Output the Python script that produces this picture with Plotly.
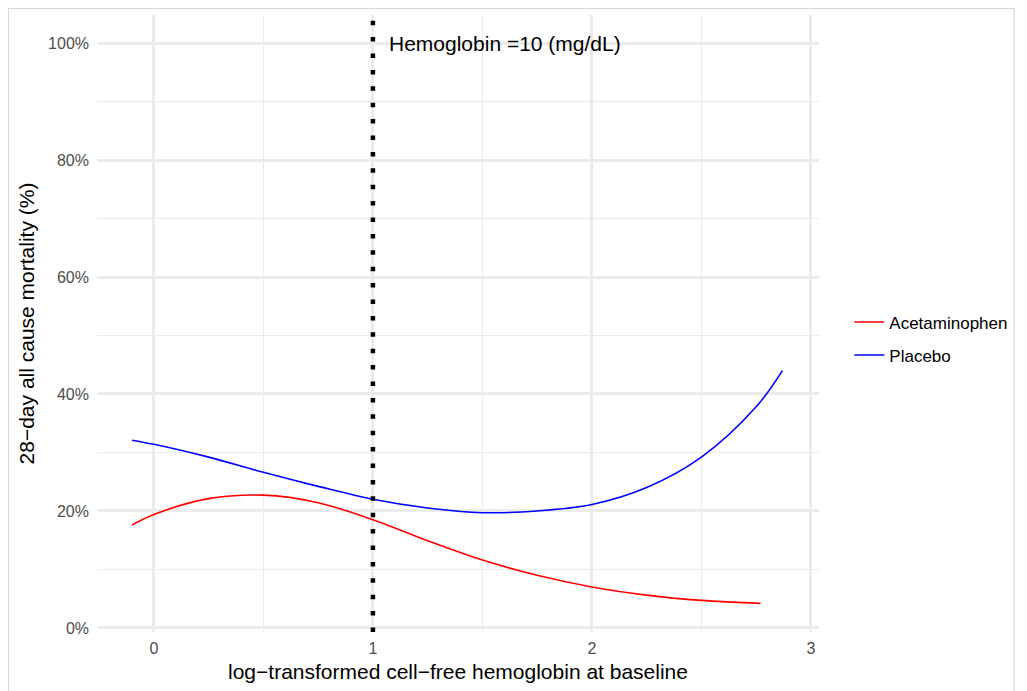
import plotly.graph_objects as go

# Data
placebo_x = [-0.1, 0.0, 0.25, 0.5, 0.75, 1.0, 1.25, 1.5, 1.75, 2.0, 2.25, 2.5, 2.75, 2.87]
placebo_y = [0.321, 0.314, 0.292, 0.266, 0.242, 0.220, 0.205, 0.197, 0.200, 0.211, 0.240, 0.292, 0.378, 0.440]

acet_x = [-0.1, 0.0, 0.25, 0.5, 0.75, 1.0, 1.25, 1.5, 1.75, 2.0, 2.25, 2.5, 2.77]
acet_y = [0.176, 0.194, 0.221, 0.227, 0.214, 0.185, 0.149, 0.116, 0.090, 0.070, 0.056, 0.047, 0.042]

threshold_x = 1.0
threshold_label = "Hemoglobin =10 (mg/dL)"

x_ticks = [0, 1, 2, 3]
y_ticks = [0, 0.2, 0.4, 0.6, 0.8, 1.0]

FONT = "Liberation Sans, Arial, sans-serif"
GRID = "#EBEBEB"

# page is rendered with an 8px body offset; plot area in page px: x 97..819, y 15..632
L, T = 97 - 8, 15 - 8
R = 1027 - (819 - 8)
B = 691 - (632 - 8)
PW = 819 - 97
PH = 632 - 15

fig = go.Figure()
fig.add_trace(go.Scatter(x=acet_x, y=acet_y, mode="lines", name="Acetaminophen", legendgroup="a",
                         line=dict(color="#FF0000", width=1.6, shape="spline", smoothing=1.0)))
fig.add_trace(go.Scatter(x=placebo_x, y=placebo_y, mode="lines", name="Placebo", legendgroup="b",
                         line=dict(color="#0000FF", width=1.6, shape="spline", smoothing=1.0)))

# vertical dotted reference line
fig.add_shape(type="line", xref="x", yref="paper", x0=threshold_x, x1=threshold_x, y0=0, y1=1,
              line=dict(color="black", width=4.5, dash="4.5px,11.9px"), layer="above")

fig.add_annotation(x=threshold_x + 0.065, y=1.0, xref="x", yref="y", text=threshold_label,
                   showarrow=False, xanchor="left", yanchor="middle",
                   font=dict(family=FONT, size=21, color="black"))

# light outer frame (figure edges)
fig.add_shape(type="rect", xref="paper", yref="paper",
              x0=(-L + 0.5) / PW, x1=(1014 - 8 - L) / PW,
              y0=(624 - 700) / PH, y1=(PH + T - 0.5) / PH,
              line=dict(color="#D9D9D9", width=1.2), fillcolor="rgba(0,0,0,0)", layer="below")

fig.update_layout(
    width=1027, height=691,
    margin=dict(l=L, r=R, t=T, b=B),
    paper_bgcolor="white", plot_bgcolor="white",
    font=dict(family=FONT, color="black"),
    showlegend=True,
    legend=dict(x=1.042, y=0.475, xanchor="left", yanchor="middle",
                font=dict(family=FONT, size=17, color="black"), traceorder="grouped",
                itemwidth=30, tracegroupgap=8, bgcolor="rgba(0,0,0,0)"),
)

fig.update_xaxes(range=[-0.26, 3.037], tickvals=x_ticks, ticktext=[str(t) for t in x_ticks],
                 showgrid=True, gridcolor=GRID, gridwidth=2.6, zeroline=False, showline=False,
                 ticks="", ticklabelstandoff=5, tickfont=dict(family=FONT, size=16, color="#4D4D4D"),
                 minor=dict(dtick=0.5, tick0=0, showgrid=True, gridcolor=GRID, gridwidth=1.1, ticks=""),
                 title=dict(text="log\u2212transformed cell\u2212free hemoglobin at baseline",
                            font=dict(family=FONT, size=21, color="black"), standoff=8))

fig.update_yaxes(range=[-0.007, 1.048], tickvals=y_ticks, tickformat=".0%",
                 showgrid=True, gridcolor=GRID, gridwidth=2.6, zeroline=False, showline=False,
                 ticks="", ticklabelstandoff=7, tickfont=dict(family=FONT, size=16, color="#4D4D4D"),
                 minor=dict(dtick=0.1, tick0=0, showgrid=True, gridcolor=GRID, gridwidth=1.1, ticks=""),
                 title=dict(text="28\u2212day all cause mortality (%)",
                            font=dict(family=FONT, size=21, color="black"), standoff=7))

fig.write_html("out.html")
